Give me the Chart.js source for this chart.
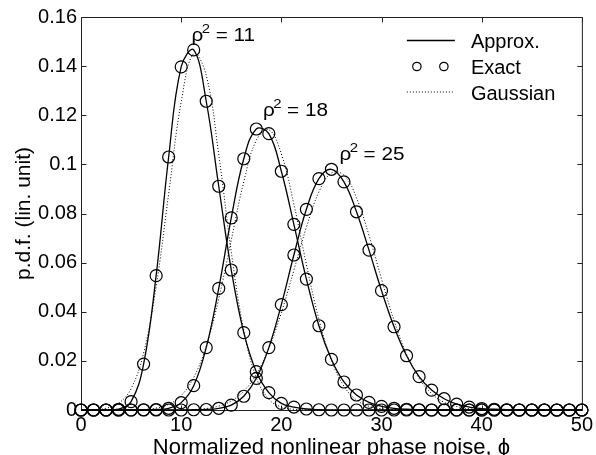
<!DOCTYPE html>
<html><head><meta charset="utf-8">
<script src="https://cdn.jsdelivr.net/npm/chart.js@4.4.1/dist/chart.umd.min.js"></script>
<style>html,body{margin:0;padding:0;background:#fff;overflow:hidden}#wrap{width:596px;height:455px;position:relative}</style>
</head><body><div id="wrap"><canvas id="c" width="596" height="455"></canvas></div>
<script>
// ---- data ----
const xs = [0,1.25,2.5,3.75,5,6.25,7.5,8.75,10,11.25,12.5,13.75,15,16.25,17.5,18.75,20,21.25,22.5,23.75,25,26.25,27.5,28.75,30,31.25,32.5,33.75,35,36.25,37.5,38.75,40,41.25,42.5,43.75,45,46.25,47.5,48.75,50];

const exact11 = [0,0,0,0.0003,0.0034,0.0187,0.0547,0.1030,0.1397,0.1466,0.1257,0.0911,0.0570,0.0315,0.0156,0.0071,0.0027,0.0012,0.0004,0.0001,0,0,0,0,0,0,0,0,0,0,0,0,0,0,0,0,0,0,0,0,0];
const exact18 = [0,0,0,0,0,0.0001,0.0002,0.0007,0.0030,0.0099,0.0254,0.0495,0.0782,0.1023,0.1144,0.1125,0.0972,0.0756,0.0533,0.0343,0.0206,0.0114,0.0061,0.0031,0.0015,0.0007,0.0003,0.0001,0,0,0,0,0,0,0,0,0,0,0,0,0];
const exact25 = [0,0,0,0,0,0,0,0,0,0.0001,0.0002,0.0007,0.0020,0.0056,0.0129,0.0254,0.0429,0.0631,0.0817,0.0942,0.0980,0.0929,0.0807,0.0651,0.0486,0.0339,0.0221,0.0136,0.0081,0.0046,0.0024,0.0012,0.0006,0.0003,0.0001,0,0,0,0,0,0];

const approx11 = [0,0,0,0.0003,0.0034,0.0187,0.0547,0.1030,0.1397,0.1466,0.1257,0.0911,0.0570,0.0315,0.0156,0.0071,0.0027,0.0012,0.0004,0.0001,0,0,0,0,0,0,0,0,0,0,0,0,0,0,0,0,0,0,0,0,0];
const approx18 = [0,0,0,0,0,0.0001,0.0002,0.0007,0.0030,0.0099,0.0254,0.0495,0.0782,0.1023,0.1144,0.1125,0.0972,0.0756,0.0533,0.0343,0.0206,0.0114,0.0061,0.0031,0.0015,0.0007,0.0003,0.0001,0,0,0,0,0,0,0,0,0,0,0,0,0];
const approx25 = [0,0,0,0,0,0,0,0,0,0.0001,0.0002,0.0007,0.0020,0.0056,0.0129,0.0254,0.0429,0.0631,0.0817,0.0942,0.0980,0.0929,0.0807,0.0651,0.0486,0.0339,0.0221,0.0136,0.0081,0.0046,0.0024,0.0012,0.0006,0.0003,0.0001,0,0,0,0,0,0];

const gauss11 = [0,0.0001,0.0007,0.0027,0.0087,0.0232,0.0502,0.0880,0.1254,0.1451,0.1363,0.1040,0.0644,0.0324,0.0132,0.0044,0.0012,0.0003,0.0001,0,0,0,0,0,0,0,0,0,0,0,0,0,0,0,0,0,0,0,0,0,0];
const gauss18 = [0,0,0,0,0.0001,0.0002,0.0008,0.0023,0.0059,0.0132,0.0260,0.0453,0.0692,0.0929,0.1098,0.1141,0.1043,0.0838,0.0593,0.0369,0.0202,0.0097,0.0041,0.0015,0.0005,0.0001,0,0,0,0,0,0,0,0,0,0,0,0,0,0,0];
const gauss25 = [0,0,0,0,0,0,0,0,0.0001,0.0002,0.0006,0.0016,0.0037,0.0077,0.0145,0.0251,0.0396,0.0569,0.0744,0.0888,0.0965,0.0956,0.0864,0.0711,0.0533,0.0364,0.0227,0.0129,0.0067,0.0031,0.0014,0.0005,0.0002,0.0001,0,0,0,0,0,0,0];

const xTickValues = [0,10,20,30,40,50];
const xTickLabels = ["0","10","20","30","40","50"];
const yTickValues = [0,0.02,0.04,0.06,0.08,0.1,0.12,0.14,0.16];
const yTickLabels = ["0","0.02","0.04","0.06","0.08","0.1","0.12","0.14","0.16"];

const seriesNames = ["Approx.","Exact","Gaussian"];
const curveLabels = [
  {rho2:"11", x:11.03, y:0.1504},
  {rho2:"18", x:18.16, y:0.1197},
  {rho2:"25", x:25.8,  y:0.1018}
];

// ---- drawing ----
const FONT = "'Liberation Sans', Arial, Helvetica, sans-serif";
const pts = arr => xs.map((x,i)=>({x:x,y:arr[i]}));

const gaussStyle = {borderColor:'#000', borderWidth:1, borderDash:[1,2], pointRadius:0, tension:0.4, fill:false, clip:false};
const approxStyle = {borderColor:'#000', borderWidth:1.3, pointRadius:0, tension:0.4, fill:false, clip:false};
const exactStyle = {showLine:false, pointRadius:6, pointBorderWidth:1.2, pointBorderColor:'#000', pointBackgroundColor:'rgba(0,0,0,0)', pointStyle:'circle', clip:false};

const framePlugin = {
  id:'frame',
  beforeDatasetsDraw(chart){
    const {ctx, chartArea:a, scales:{x,y}} = chart;
    ctx.save();
    ctx.strokeStyle='#222'; ctx.lineWidth=1;
    const L=a.left+0.5, R=a.right+0.5, T=a.top+0.5, B=a.bottom+0.5;
    ctx.beginPath();
    ctx.moveTo(L,T); ctx.lineTo(R,T); ctx.lineTo(R,B); ctx.lineTo(L,B); ctx.closePath();
    const tl=5;
    xTickValues.forEach(v=>{const p=Math.round(x.getPixelForValue(v))+0.5; ctx.moveTo(p,B); ctx.lineTo(p,B-tl); ctx.moveTo(p,T); ctx.lineTo(p,T+tl);});
    yTickValues.forEach(v=>{const p=Math.round(y.getPixelForValue(v))+0.5; ctx.moveTo(L,p); ctx.lineTo(L+tl,p); ctx.moveTo(R,p); ctx.lineTo(R-tl,p);});
    ctx.stroke();
    ctx.restore();
  },
  afterDatasetsDraw(chart){
    const {ctx, chartArea:a, scales:{x,y}} = chart;
    ctx.save();
    ctx.fillStyle='#000';
    // curve labels
    curveLabels.forEach(c=>{
      const px=x.getPixelForValue(c.x), py=y.getPixelForValue(c.y);
      ctx.save();
      ctx.translate(px,py); ctx.scale(1.15,1);
      ctx.textBaseline='alphabetic'; ctx.textAlign='left';
      ctx.font="18px "+FONT;
      ctx.fillText("ρ",0,0);
      ctx.font="13px "+FONT;
      ctx.fillText("2",9,-8);
      ctx.font="18px "+FONT;
      ctx.fillText("= "+c.rho2,21,0);
      ctx.restore();
    });
    // legend
    const sx0=a.right-175, sx1=a.right-127, tx=a.right-111;
    const rows=[a.top+30.5, a.top+56.5, a.top+82.5];
    ctx.font="20px "+FONT; ctx.textBaseline='alphabetic'; ctx.textAlign='left';
    seriesNames.forEach((n,i)=>ctx.fillText(n,tx,rows[i]));
    ctx.strokeStyle='#000';
    ctx.lineWidth=1.3; ctx.beginPath(); ctx.moveTo(sx0,rows[0]-7); ctx.lineTo(sx1,rows[0]-7); ctx.stroke();
    ctx.lineWidth=1.2;
    [sx0+10, sx1-11].forEach(cx=>{ctx.beginPath(); ctx.arc(cx,rows[1]-7,4.2,0,Math.PI*2); ctx.stroke();});
    ctx.lineWidth=1; ctx.setLineDash([1,2]); ctx.beginPath(); ctx.moveTo(sx0,rows[2]-7.5); ctx.lineTo(sx1,rows[2]-7.5); ctx.stroke();
    ctx.restore();
  }
};

new Chart(document.getElementById('c'), {
  type:'line',
  data:{datasets:[
    Object.assign({label:'Gaussian 11', data:pts(gauss11)}, gaussStyle),
    Object.assign({label:'Gaussian 18', data:pts(gauss18)}, gaussStyle),
    Object.assign({label:'Gaussian 25', data:pts(gauss25)}, gaussStyle),
    Object.assign({label:'Approx. 11', data:pts(approx11)}, approxStyle),
    Object.assign({label:'Approx. 18', data:pts(approx18)}, approxStyle),
    Object.assign({label:'Approx. 25', data:pts(approx25)}, approxStyle),
    Object.assign({label:'Exact 11', data:pts(exact11)}, exactStyle),
    Object.assign({label:'Exact 18', data:pts(exact18)}, exactStyle),
    Object.assign({label:'Exact 25', data:pts(exact25)}, exactStyle)
  ]},
  options:{
    responsive:false, animation:false, devicePixelRatio:1,
    layout:{padding:{top:17,right:13,left:0,bottom:0}},
    plugins:{legend:{display:false}, tooltip:{enabled:false}},
    scales:{
      x:{type:'linear', min:0, max:50,
        afterBuildTicks:s=>{s.ticks=xTickValues.map(v=>({value:v}));},
        afterFit:s=>{s.height=45;},
        ticks:{padding:3, color:'#000', font:{family:FONT,size:20}, maxRotation:0, autoSkip:false,
          callback:(v,i)=>xTickLabels[i]},
        grid:{display:false, drawTicks:false}, border:{display:false},
        title:{display:true, text:'Normalized nonlinear phase noise, ϕ', color:'#000',
          font:{family:FONT,size:22,lineHeight:0.6}, padding:{top:0,bottom:0}}
      },
      y:{type:'linear', min:0, max:0.16,
        afterBuildTicks:s=>{s.ticks=yTickValues.map(v=>({value:v}));},
        afterFit:s=>{s.width=81;},
        ticks:{padding:4, color:'#000', font:{family:FONT,size:20}, autoSkip:false,
          callback:(v,i)=>yTickLabels[i]},
        grid:{display:false, drawTicks:false}, border:{display:false},
        title:{display:true, text:'p.d.f. (lin. unit)', color:'#000',
          font:{family:FONT,size:21,lineHeight:1}, padding:{top:14,bottom:0}}
      }
    }
  },
  plugins:[framePlugin]
});
</script></body></html>
